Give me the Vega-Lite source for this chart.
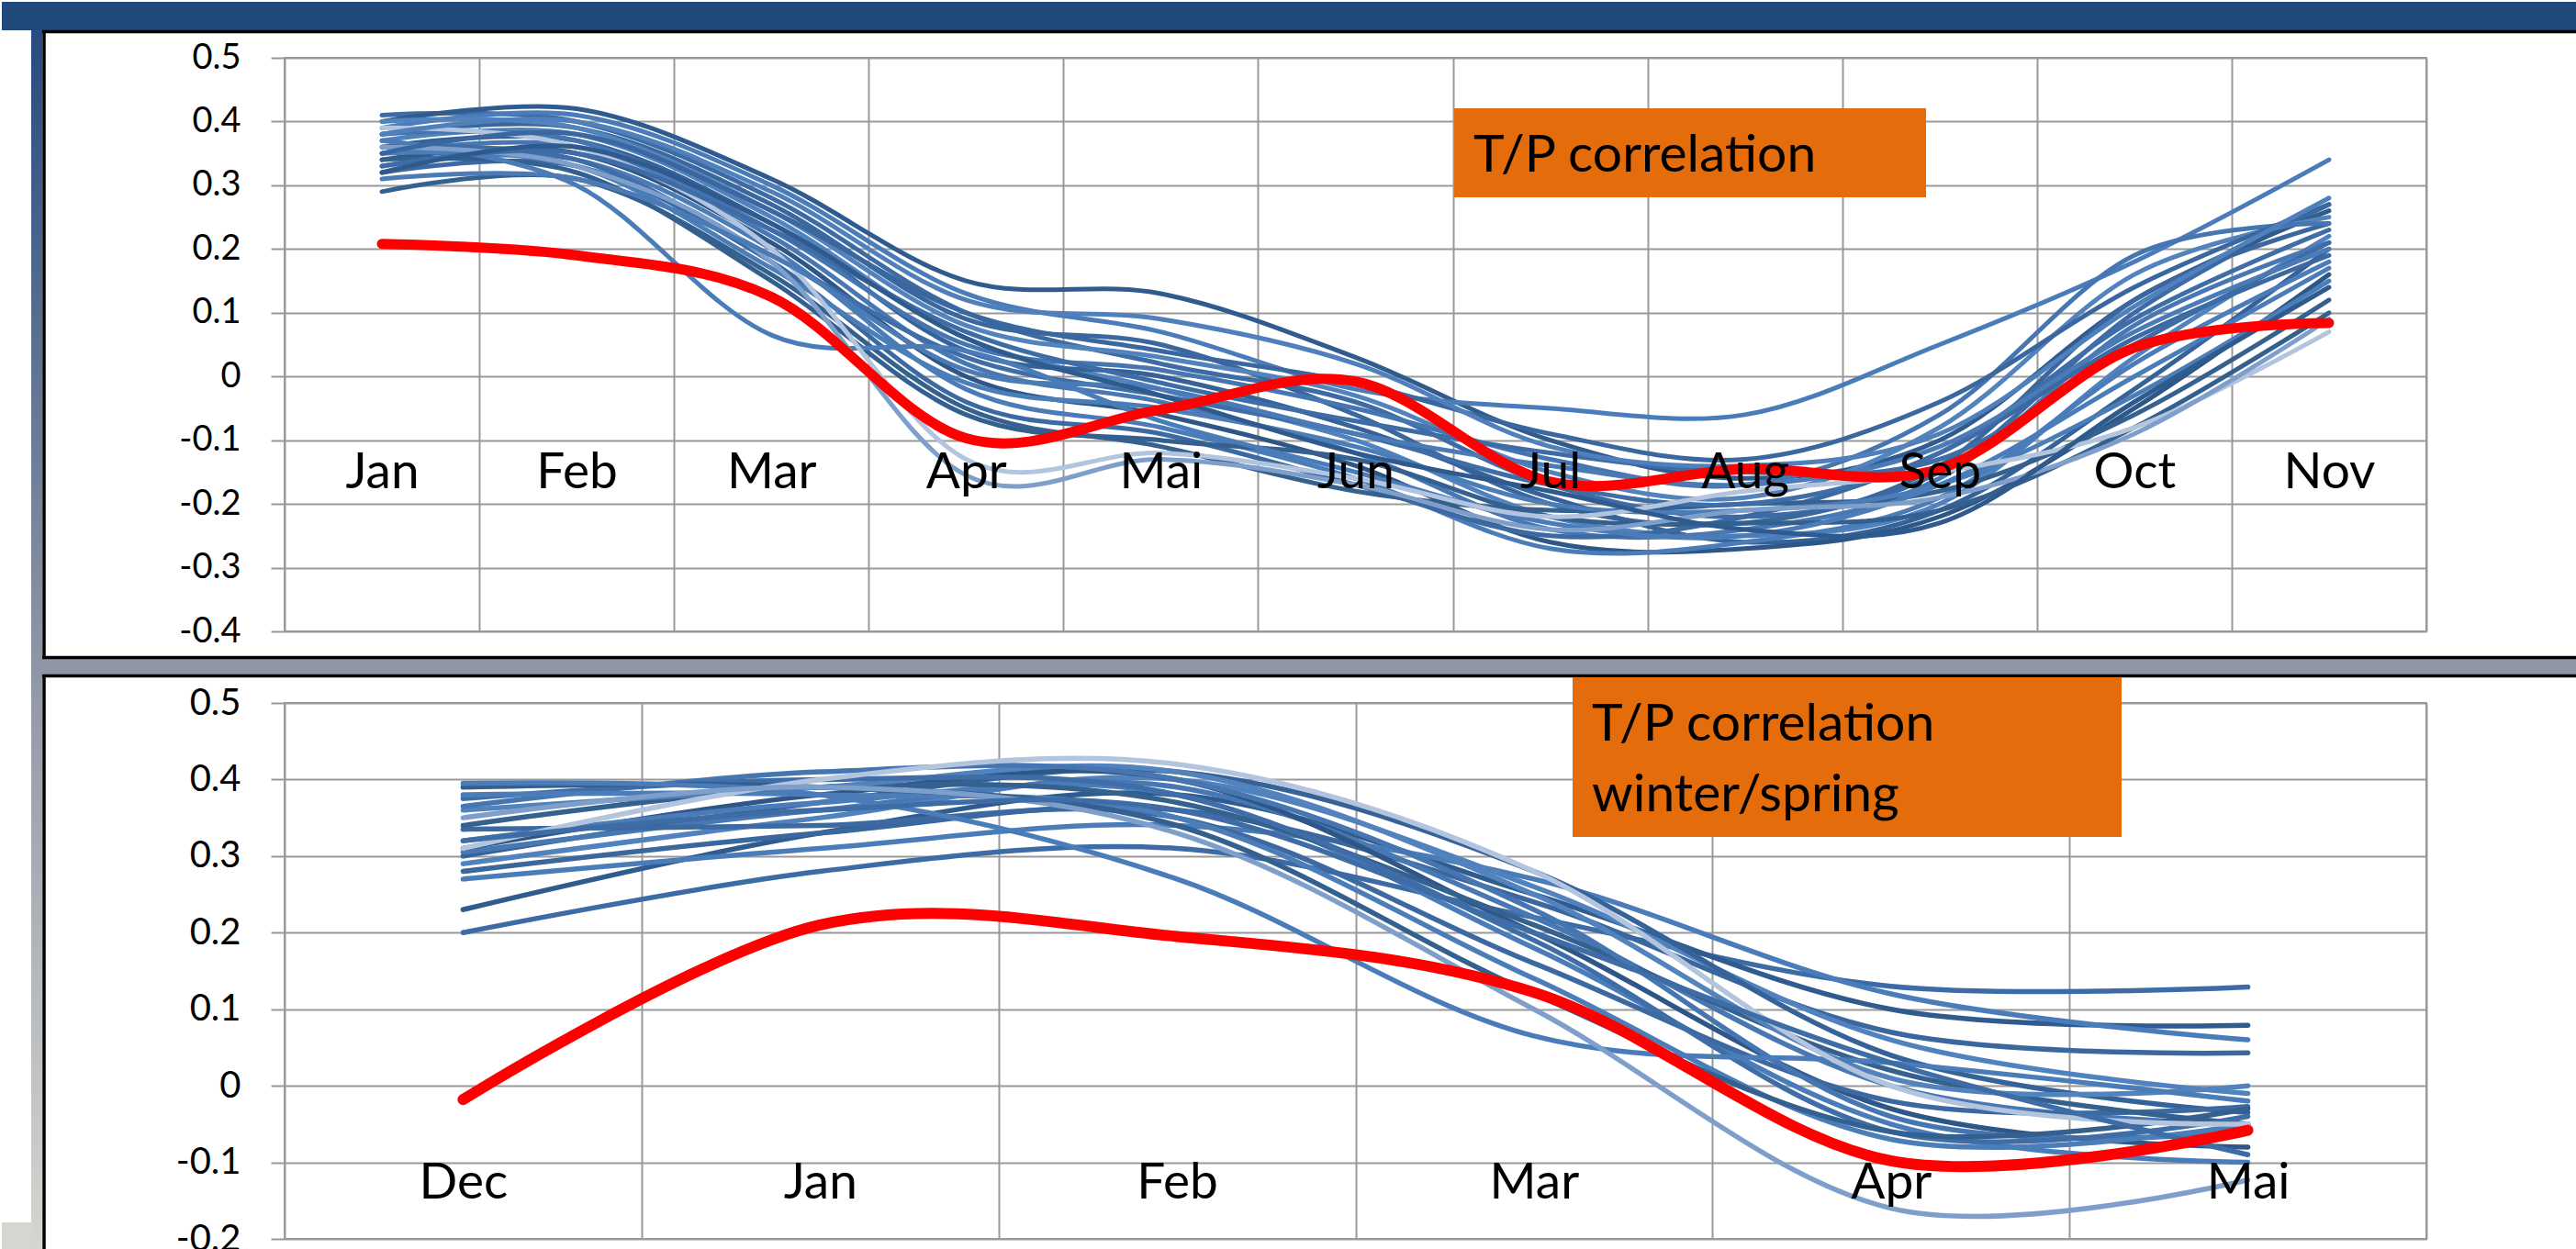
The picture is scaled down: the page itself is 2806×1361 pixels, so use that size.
{
  "$schema": "https://vega.github.io/schema/vega-lite/v6.json",
  "background": "white",
  "padding": 0,
  "bounds": "flush",
  "spacing": 78,
  "config": {
    "view": {"stroke": "#999999", "strokeWidth": 2},
    "font": "Lato"
  },
  "datasets": {
    "top": [
      {"s":"L1","m":0,"v":0.41},{"s":"L1","m":1,"v":0.40},{"s":"L1","m":2,"v":0.28},{"s":"L1","m":3,"v":0.10},{"s":"L1","m":4,"v":0.02},{"s":"L1","m":5,"v":-0.04},{"s":"L1","m":6,"v":-0.17},{"s":"L1","m":7,"v":-0.22},{"s":"L1","m":8,"v":-0.15},{"s":"L1","m":9,"v":0.10},{"s":"L1","m":10,"v":0.27},
      {"s":"L2","m":0,"v":0.40},{"s":"L2","m":1,"v":0.42},{"s":"L2","m":2,"v":0.31},{"s":"L2","m":3,"v":0.15},{"s":"L2","m":4,"v":0.13},{"s":"L2","m":5,"v":0.03},{"s":"L2","m":6,"v":-0.10},{"s":"L2","m":7,"v":-0.16},{"s":"L2","m":8,"v":-0.10},{"s":"L2","m":9,"v":0.12},{"s":"L2","m":10,"v":0.26},
      {"s":"L3","m":0,"v":0.39},{"s":"L3","m":1,"v":0.41},{"s":"L3","m":2,"v":0.30},{"s":"L3","m":3,"v":0.13},{"s":"L3","m":4,"v":0.07},{"s":"L3","m":5,"v":-0.02},{"s":"L3","m":6,"v":-0.05},{"s":"L3","m":7,"v":-0.06},{"s":"L3","m":8,"v":0.05},{"s":"L3","m":9,"v":0.18},{"s":"L3","m":10,"v":0.34},
      {"s":"L4","m":0,"v":0.38},{"s":"L4","m":1,"v":0.39},{"s":"L4","m":2,"v":0.27},{"s":"L4","m":3,"v":0.09},{"s":"L4","m":4,"v":0.05},{"s":"L4","m":5,"v":-0.06},{"s":"L4","m":6,"v":-0.20},{"s":"L4","m":7,"v":-0.23},{"s":"L4","m":8,"v":-0.14},{"s":"L4","m":9,"v":0.12},{"s":"L4","m":10,"v":0.24},
      {"s":"L5","m":0,"v":0.37},{"s":"L5","m":1,"v":0.38},{"s":"L5","m":2,"v":0.25},{"s":"L5","m":3,"v":0.06},{"s":"L5","m":4,"v":-0.02},{"s":"L5","m":5,"v":-0.10},{"s":"L5","m":6,"v":-0.22},{"s":"L5","m":7,"v":-0.25},{"s":"L5","m":8,"v":-0.20},{"s":"L5","m":9,"v":0.03},{"s":"L5","m":10,"v":0.22},
      {"s":"L6","m":0,"v":0.36},{"s":"L6","m":1,"v":0.37},{"s":"L6","m":2,"v":0.24},{"s":"L6","m":3,"v":0.04},{"s":"L6","m":4,"v":0.00},{"s":"L6","m":5,"v":-0.08},{"s":"L6","m":6,"v":-0.19},{"s":"L6","m":7,"v":-0.26},{"s":"L6","m":8,"v":-0.21},{"s":"L6","m":9,"v":-0.02},{"s":"L6","m":10,"v":0.20},
      {"s":"L7","m":0,"v":0.35},{"s":"L7","m":1,"v":0.36},{"s":"L7","m":2,"v":0.22},{"s":"L7","m":3,"v":0.02},{"s":"L7","m":4,"v":-0.04},{"s":"L7","m":5,"v":-0.12},{"s":"L7","m":6,"v":-0.24},{"s":"L7","m":7,"v":-0.24},{"s":"L7","m":8,"v":-0.16},{"s":"L7","m":9,"v":0.08},{"s":"L7","m":10,"v":0.21},
      {"s":"L8","m":0,"v":0.34},{"s":"L8","m":1,"v":0.35},{"s":"L8","m":2,"v":0.21},{"s":"L8","m":3,"v":0.00},{"s":"L8","m":4,"v":-0.06},{"s":"L8","m":5,"v":-0.14},{"s":"L8","m":6,"v":-0.26},{"s":"L8","m":7,"v":-0.27},{"s":"L8","m":8,"v":-0.22},{"s":"L8","m":9,"v":-0.05},{"s":"L8","m":10,"v":0.16},
      {"s":"L9","m":0,"v":0.33},{"s":"L9","m":1,"v":0.34},{"s":"L9","m":2,"v":0.20},{"s":"L9","m":3,"v":-0.02},{"s":"L9","m":4,"v":-0.08},{"s":"L9","m":5,"v":-0.16},{"s":"L9","m":6,"v":-0.27},{"s":"L9","m":7,"v":-0.26},{"s":"L9","m":8,"v":-0.19},{"s":"L9","m":9,"v":0.02},{"s":"L9","m":10,"v":0.18},
      {"s":"L10","m":0,"v":0.32},{"s":"L10","m":1,"v":0.33},{"s":"L10","m":2,"v":0.18},{"s":"L10","m":3,"v":-0.04},{"s":"L10","m":4,"v":-0.09},{"s":"L10","m":5,"v":-0.17},{"s":"L10","m":6,"v":-0.25},{"s":"L10","m":7,"v":-0.22},{"s":"L10","m":8,"v":-0.12},{"s":"L10","m":9,"v":0.06},{"s":"L10","m":10,"v":0.19},
      {"s":"L11","m":0,"v":0.29},{"s":"L11","m":1,"v":0.31},{"s":"L11","m":2,"v":0.16},{"s":"L11","m":3,"v":-0.05},{"s":"L11","m":4,"v":-0.11},{"s":"L11","m":5,"v":-0.18},{"s":"L11","m":6,"v":-0.21},{"s":"L11","m":7,"v":-0.20},{"s":"L11","m":8,"v":-0.18},{"s":"L11","m":9,"v":-0.06},{"s":"L11","m":10,"v":0.12},
      {"s":"L12","m":0,"v":0.40},{"s":"L12","m":1,"v":0.39},{"s":"L12","m":2,"v":0.26},{"s":"L12","m":3,"v":0.08},{"s":"L12","m":4,"v":0.03},{"s":"L12","m":5,"v":-0.03},{"s":"L12","m":6,"v":-0.15},{"s":"L12","m":7,"v":-0.19},{"s":"L12","m":8,"v":-0.08},{"s":"L12","m":9,"v":0.16},{"s":"L12","m":10,"v":0.25},
      {"s":"L13","m":0,"v":0.38},{"s":"L13","m":1,"v":0.37},{"s":"L13","m":2,"v":0.23},{"s":"L13","m":3,"v":0.05},{"s":"L13","m":4,"v":0.01},{"s":"L13","m":5,"v":-0.05},{"s":"L13","m":6,"v":-0.13},{"s":"L13","m":7,"v":-0.17},{"s":"L13","m":8,"v":-0.06},{"s":"L13","m":9,"v":0.19},{"s":"L13","m":10,"v":0.24},
      {"s":"L14","m":0,"v":0.36},{"s":"L14","m":1,"v":0.34},{"s":"L14","m":2,"v":0.19},{"s":"L14","m":3,"v":0.03},{"s":"L14","m":4,"v":-0.03},{"s":"L14","m":5,"v":-0.09},{"s":"L14","m":6,"v":-0.17},{"s":"L14","m":7,"v":-0.20},{"s":"L14","m":8,"v":-0.12},{"s":"L14","m":9,"v":0.09},{"s":"L14","m":10,"v":0.23},
      {"s":"L15","m":0,"v":0.35},{"s":"L15","m":1,"v":0.33},{"s":"L15","m":2,"v":0.17},{"s":"L15","m":3,"v":-0.01},{"s":"L15","m":4,"v":-0.05},{"s":"L15","m":5,"v":-0.11},{"s":"L15","m":6,"v":-0.20},{"s":"L15","m":7,"v":-0.21},{"s":"L15","m":8,"v":-0.17},{"s":"L15","m":9,"v":-0.03},{"s":"L15","m":10,"v":0.15},
      {"s":"L16","m":0,"v":0.34},{"s":"L16","m":1,"v":0.32},{"s":"L16","m":2,"v":0.15},{"s":"L16","m":3,"v":-0.06},{"s":"L16","m":4,"v":-0.10},{"s":"L16","m":5,"v":-0.13},{"s":"L16","m":6,"v":-0.22},{"s":"L16","m":7,"v":-0.23},{"s":"L16","m":8,"v":-0.21},{"s":"L16","m":9,"v":-0.08},{"s":"L16","m":10,"v":0.10},
      {"s":"L17","m":0,"v":0.37},{"s":"L17","m":1,"v":0.30},{"s":"L17","m":2,"v":0.065},{"s":"L17","m":3,"v":0.04},{"s":"L17","m":4,"v":-0.07},{"s":"L17","m":5,"v":-0.15},{"s":"L17","m":6,"v":-0.23},{"s":"L17","m":7,"v":-0.25},{"s":"L17","m":8,"v":-0.17},{"s":"L17","m":9,"v":0.00},{"s":"L17","m":10,"v":0.17},
      {"s":"L18","m":0,"v":0.39},{"s":"L18","m":1,"v":0.36},{"s":"L18","m":2,"v":0.20},{"s":"L18","m":3,"v":-0.13},{"s":"L18","m":4,"v":-0.12},{"s":"L18","m":5,"v":-0.16},{"s":"L18","m":6,"v":-0.22},{"s":"L18","m":7,"v":-0.18},{"s":"L18","m":8,"v":-0.15},{"s":"L18","m":9,"v":-0.08},{"s":"L18","m":10,"v":0.07},
      {"s":"L19","m":0,"v":0.36},{"s":"L19","m":1,"v":0.33},{"s":"L19","m":2,"v":0.18},{"s":"L19","m":3,"v":-0.155},{"s":"L19","m":4,"v":-0.13},{"s":"L19","m":5,"v":-0.17},{"s":"L19","m":6,"v":-0.24},{"s":"L19","m":7,"v":-0.21},{"s":"L19","m":8,"v":-0.19},{"s":"L19","m":9,"v":-0.09},{"s":"L19","m":10,"v":0.09},
      {"s":"L20","m":0,"v":0.33},{"s":"L20","m":1,"v":0.35},{"s":"L20","m":2,"v":0.23},{"s":"L20","m":3,"v":0.07},{"s":"L20","m":4,"v":-0.01},{"s":"L20","m":5,"v":-0.07},{"s":"L20","m":6,"v":-0.12},{"s":"L20","m":7,"v":-0.15},{"s":"L20","m":8,"v":-0.13},{"s":"L20","m":9,"v":0.05},{"s":"L20","m":10,"v":0.21},
      {"s":"L21","m":0,"v":0.31},{"s":"L21","m":1,"v":0.31},{"s":"L21","m":2,"v":0.19},{"s":"L21","m":3,"v":0.01},{"s":"L21","m":4,"v":-0.02},{"s":"L21","m":5,"v":-0.09},{"s":"L21","m":6,"v":-0.14},{"s":"L21","m":7,"v":-0.17},{"s":"L21","m":8,"v":-0.11},{"s":"L21","m":9,"v":0.07},{"s":"L21","m":10,"v":0.20},
      {"s":"L22","m":0,"v":0.35},{"s":"L22","m":1,"v":0.38},{"s":"L22","m":2,"v":0.26},{"s":"L22","m":3,"v":0.10},{"s":"L22","m":4,"v":0.04},{"s":"L22","m":5,"v":-0.01},{"s":"L22","m":6,"v":-0.09},{"s":"L22","m":7,"v":-0.13},{"s":"L22","m":8,"v":-0.04},{"s":"L22","m":9,"v":0.14},{"s":"L22","m":10,"v":0.27},
      {"s":"L23","m":0,"v":0.38},{"s":"L23","m":1,"v":0.40},{"s":"L23","m":2,"v":0.29},{"s":"L23","m":3,"v":0.12},{"s":"L23","m":4,"v":0.09},{"s":"L23","m":5,"v":0.02},{"s":"L23","m":6,"v":-0.11},{"s":"L23","m":7,"v":-0.14},{"s":"L23","m":8,"v":-0.09},{"s":"L23","m":9,"v":0.11},{"s":"L23","m":10,"v":0.28},
      {"s":"L24","m":0,"v":0.32},{"s":"L24","m":1,"v":0.36},{"s":"L24","m":2,"v":0.24},{"s":"L24","m":3,"v":0.06},{"s":"L24","m":4,"v":-0.03},{"s":"L24","m":5,"v":-0.12},{"s":"L24","m":6,"v":-0.18},{"s":"L24","m":7,"v":-0.24},{"s":"L24","m":8,"v":-0.23},{"s":"L24","m":9,"v":-0.04},{"s":"L24","m":10,"v":0.14},
      {"s":"obs","m":0,"v":0.208},{"s":"obs","m":1,"v":0.19},{"s":"obs","m":2,"v":0.125},{"s":"obs","m":3,"v":-0.097},{"s":"obs","m":4,"v":-0.052},{"s":"obs","m":5,"v":-0.008},{"s":"obs","m":6,"v":-0.165},{"s":"obs","m":7,"v":-0.145},{"s":"obs","m":8,"v":-0.145},{"s":"obs","m":9,"v":0.045},{"s":"obs","m":10,"v":0.084}
    ],
    "bottom": [
      {"s":"B1","m":0,"v":0.20},{"s":"B1","m":1,"v":0.28},{"s":"B1","m":2,"v":0.31},{"s":"B1","m":3,"v":0.22},{"s":"B1","m":4,"v":0.13},{"s":"B1","m":5,"v":0.129},
      {"s":"B2","m":0,"v":0.23},{"s":"B2","m":1,"v":0.33},{"s":"B2","m":2,"v":0.38},{"s":"B2","m":3,"v":0.25},{"s":"B2","m":4,"v":0.10},{"s":"B2","m":5,"v":0.079},
      {"s":"B3","m":0,"v":0.27},{"s":"B3","m":1,"v":0.31},{"s":"B3","m":2,"v":0.34},{"s":"B3","m":3,"v":0.27},{"s":"B3","m":4,"v":0.12},{"s":"B3","m":5,"v":0.06},
      {"s":"B4","m":0,"v":0.28},{"s":"B4","m":1,"v":0.33},{"s":"B4","m":2,"v":0.36},{"s":"B4","m":3,"v":0.24},{"s":"B4","m":4,"v":0.07},{"s":"B4","m":5,"v":0.043},
      {"s":"B5","m":0,"v":0.29},{"s":"B5","m":1,"v":0.35},{"s":"B5","m":2,"v":0.40},{"s":"B5","m":3,"v":0.26},{"s":"B5","m":4,"v":0.06},{"s":"B5","m":5,"v":-0.01},
      {"s":"B6","m":0,"v":0.30},{"s":"B6","m":1,"v":0.37},{"s":"B6","m":2,"v":0.41},{"s":"B6","m":3,"v":0.28},{"s":"B6","m":4,"v":0.04},{"s":"B6","m":5,"v":-0.035},
      {"s":"B7","m":0,"v":0.305},{"s":"B7","m":1,"v":0.36},{"s":"B7","m":2,"v":0.39},{"s":"B7","m":3,"v":0.22},{"s":"B7","m":4,"v":0.00},{"s":"B7","m":5,"v":-0.05},
      {"s":"B8","m":0,"v":0.31},{"s":"B8","m":1,"v":0.38},{"s":"B8","m":2,"v":0.40},{"s":"B8","m":3,"v":0.20},{"s":"B8","m":4,"v":-0.03},{"s":"B8","m":5,"v":-0.08},
      {"s":"B9","m":0,"v":0.32},{"s":"B9","m":1,"v":0.37},{"s":"B9","m":2,"v":0.38},{"s":"B9","m":3,"v":0.18},{"s":"B9","m":4,"v":-0.05},{"s":"B9","m":5,"v":-0.10},
      {"s":"B10","m":0,"v":0.335},{"s":"B10","m":1,"v":0.34},{"s":"B10","m":2,"v":0.35},{"s":"B10","m":3,"v":0.16},{"s":"B10","m":4,"v":-0.02},{"s":"B10","m":5,"v":-0.027},
      {"s":"B11","m":0,"v":0.34},{"s":"B11","m":1,"v":0.39},{"s":"B11","m":2,"v":0.37},{"s":"B11","m":3,"v":0.21},{"s":"B11","m":4,"v":0.02},{"s":"B11","m":5,"v":-0.05},
      {"s":"B12","m":0,"v":0.36},{"s":"B12","m":1,"v":0.39},{"s":"B12","m":2,"v":0.41},{"s":"B12","m":3,"v":0.25},{"s":"B12","m":4,"v":0.01},{"s":"B12","m":5,"v":0.0},
      {"s":"B13","m":0,"v":0.365},{"s":"B13","m":1,"v":0.41},{"s":"B13","m":2,"v":0.40},{"s":"B13","m":3,"v":0.23},{"s":"B13","m":4,"v":-0.04},{"s":"B13","m":5,"v":-0.06},
      {"s":"B14","m":0,"v":0.375},{"s":"B14","m":1,"v":0.40},{"s":"B14","m":2,"v":0.38},{"s":"B14","m":3,"v":0.19},{"s":"B14","m":4,"v":-0.06},{"s":"B14","m":5,"v":-0.04},
      {"s":"B15","m":0,"v":0.38},{"s":"B15","m":1,"v":0.38},{"s":"B15","m":2,"v":0.35},{"s":"B15","m":3,"v":0.14},{"s":"B15","m":4,"v":-0.07},{"s":"B15","m":5,"v":-0.05},
      {"s":"B16","m":0,"v":0.39},{"s":"B16","m":1,"v":0.39},{"s":"B16","m":2,"v":0.34},{"s":"B16","m":3,"v":0.12},{"s":"B16","m":4,"v":-0.06},{"s":"B16","m":5,"v":-0.03},
      {"s":"B17","m":0,"v":0.395},{"s":"B17","m":1,"v":0.38},{"s":"B17","m":2,"v":0.27},{"s":"B17","m":3,"v":0.065},{"s":"B17","m":4,"v":0.03},{"s":"B17","m":5,"v":-0.02},
      {"s":"B18","m":0,"v":0.31},{"s":"B18","m":1,"v":0.40},{"s":"B18","m":2,"v":0.42},{"s":"B18","m":3,"v":0.28},{"s":"B18","m":4,"v":0.00},{"s":"B18","m":5,"v":-0.05},
      {"s":"B19","m":0,"v":0.35},{"s":"B19","m":1,"v":0.39},{"s":"B19","m":2,"v":0.33},{"s":"B19","m":3,"v":0.10},{"s":"B19","m":4,"v":-0.16},{"s":"B19","m":5,"v":-0.123},
      {"s":"B20","m":0,"v":0.32},{"s":"B20","m":1,"v":0.36},{"s":"B20","m":2,"v":0.36},{"s":"B20","m":3,"v":0.20},{"s":"B20","m":4,"v":0.03},{"s":"B20","m":5,"v":-0.09},
      {"s":"obs","m":0,"v":-0.018},{"s":"obs","m":1,"v":0.21},{"s":"obs","m":2,"v":0.195},{"s":"obs","m":3,"v":0.122},{"s":"obs","m":4,"v":-0.098},{"s":"obs","m":5,"v":-0.058}
    ]
  },
  "vconcat": [
    {
      "width": 2333,
      "height": 625,
      "resolve": {"axis": {"x": "independent"}},
      "layer": [
        {
          "data": {"values": [{}]},
          "mark": {"type": "rect", "fill": "#214a7c"},
          "encoding": {
            "x": {"datum": -1.95222, "type": "quantitative", "scale": {"domain": [-0.5, 10.5], "nice": false, "zero": false}, "axis": null},
            "x2": {"datum": 11.278},
            "y": {"datum": 0.58784, "type": "quantitative", "scale": {"domain": [-0.4, 0.5], "nice": false, "zero": false}},
            "y2": {"datum": 0.5432}
          }
        },
        {
          "data": {"values": [{}]},
          "mark": {"type": "rect", "fill": {"gradient": "linear", "x1": 0, "y1": 0, "x2": 0, "y2": 1, "stops": [{"offset": 0, "color": "#264b7e"}, {"offset": 0.5, "color": "#8c93a4"}, {"offset": 1, "color": "#d6d6d0"}]}},
          "encoding": {
            "x": {"datum": -1.80133, "type": "quantitative", "axis": null},
            "x2": {"datum": -1.74476},
            "y": {"datum": 0.5432, "type": "quantitative"},
            "y2": {"datum": -1.372}
          }
        },
        {
          "data": {"values": [{}]},
          "mark": {"type": "rect", "fill": "#d6d6d0"},
          "encoding": {
            "x": {"datum": -1.95222, "type": "quantitative", "axis": null},
            "x2": {"datum": -1.80133},
            "y": {"datum": -1.32736, "type": "quantitative"},
            "y2": {"datum": -1.372}
          }
        },
        {
          "data": {"values": [{}]},
          "mark": {"type": "rect", "fill": "#8e95a5"},
          "encoding": {
            "x": {"datum": -1.80133, "type": "quantitative", "axis": null},
            "x2": {"datum": 11.278},
            "y": {"datum": -0.43888, "type": "quantitative"},
            "y2": {"datum": -0.472}
          }
        },
        {
          "data": {"values": [{"p": 0.54104}, {"p": -0.44104}, {"p": -0.46984}]},
          "mark": {"type": "rule", "color": "black", "strokeWidth": 3.5},
          "encoding": {
            "x": {"datum": -1.74476, "type": "quantitative", "axis": null},
            "x2": {"datum": 11.278},
            "y": {"field": "p", "type": "quantitative"}
          }
        },
        {
          "data": {"values": [{"a": 0.5432, "b": -0.44176}, {"a": -0.46912, "b": -1.372}]},
          "mark": {"type": "rule", "color": "black", "strokeWidth": 3.5},
          "encoding": {
            "x": {"datum": -1.73533, "type": "quantitative", "axis": null},
            "y": {"field": "a", "type": "quantitative"},
            "y2": {"field": "b"}
          }
        },
        {
          "data": {"name": "top"},
          "transform": [{"filter": "datum.s !== 'obs'"}],
          "mark": {"type": "line", "interpolate": "cardinal", "strokeWidth": 5, "strokeCap": "round", "strokeJoin": "round"},
          "encoding": {
            "x": {
              "field": "m", "type": "quantitative",
              "scale": {"domain": [-0.5, 10.5], "nice": false, "zero": false},
              "axis": {
                "orient": "bottom", "zindex": 0,
                "values": [-0.5, 0.5, 1.5, 2.5, 3.5, 4.5, 5.5, 6.5, 7.5, 8.5, 9.5, 10.5],
                "grid": true, "gridColor": "#999999", "gridWidth": 2,
                "ticks": false, "domain": false, "labels": false, "title": null
              }
            },
            "y": {
              "field": "v", "type": "quantitative",
              "scale": {"domain": [-0.4, 0.5], "nice": false, "zero": false},
              "axis": {
                "values": [-0.4, -0.3, -0.2, -0.1, 0, 0.1, 0.2, 0.3, 0.4, 0.5],
                "grid": true, "gridColor": "#999999", "gridWidth": 2,
                "ticks": true, "tickSize": 15, "tickColor": "#999999", "tickWidth": 2,
                "domain": false,
                "labelExpr": "'' + datum.value",
                "labelFont": "Lato", "labelFontSize": 38, "labelColor": "black", "labelPadding": 33,
                "labelOverlap": false, "labelFlush": false, "title": null
              }
            },
            "color": {
              "field": "s", "type": "nominal", "legend": null,
              "scale": {
                "domain": ["L1","L2","L3","L4","L5","L6","L7","L8","L9","L10","L11","L12","L13","L14","L15","L16","L17","L18","L19","L20","L21","L22","L23","L24"],
                "range": ["#3d6ba5","#2f5b8f","#4a7cb9","#3a679e","#4f82bf","#36629a","#4878b4","#2e5788","#4a7cb9","#3c69a2","#35618f","#5383bd","#4676b1","#3f6da7","#4b7db8","#34608f","#4a7cb9","#b3c4de","#7f9fcb","#3e6ca6","#4a7bb6","#3a679f","#4f80bb","#2f5a8d"]
              }
            }
          }
        },
        {
          "data": {"name": "top"},
          "transform": [{"filter": "datum.s === 'obs'"}],
          "mark": {"type": "line", "interpolate": "cardinal", "strokeWidth": 11, "strokeCap": "round", "color": "#ff0000"},
          "encoding": {
            "x": {
              "field": "m", "type": "quantitative",
              "axis": {
                "orient": "top", "zindex": 2,
                "values": [0, 1, 2, 3, 4, 5, 6, 7, 8, 9, 10],
                "grid": false, "ticks": false, "domain": false,
                "labelExpr": "['Jan','Feb','Mar','Apr','Mai','Jun','Jul','Aug','Sep','Oct','Nov'][datum.value]",
                "labelFont": "Lato", "labelFontSize": 55, "labelColor": "black",
                "labelBaseline": "alphabetic", "labelPadding": -51, "offset": -417,
                "labelFlush": false, "labelOverlap": false, "labelBound": false, "title": null
              }
            },
            "y": {"field": "v", "type": "quantitative"}
          }
        },
        {
          "data": {"values": [{}]},
          "mark": {"type": "rect", "fill": "#e46c0a"},
          "encoding": {
            "x": {"datum": 5.50686, "type": "quantitative", "axis": null},
            "x2": {"datum": 7.93043},
            "y": {"datum": 0.4208, "type": "quantitative"},
            "y2": {"datum": 0.28112}
          }
        },
        {
          "data": {"values": [{"label": "T/P correlation"}]},
          "mark": {"type": "text", "align": "left", "baseline": "alphabetic", "font": "Lato", "fontSize": 57, "color": "black"},
          "encoding": {
            "x": {"datum": 5.60587, "type": "quantitative", "axis": null},
            "y": {"datum": 0.32216, "type": "quantitative"},
            "text": {"field": "label"}
          }
        }
      ]
    },
    {
      "width": 2333,
      "height": 584,
      "resolve": {"axis": {"x": "independent"}},
      "layer": [
        {
          "data": {"name": "bottom"},
          "transform": [{"filter": "datum.s !== 'obs'"}],
          "mark": {"type": "line", "interpolate": "cardinal", "strokeWidth": 5.5, "strokeCap": "round", "strokeJoin": "round"},
          "encoding": {
            "x": {
              "field": "m", "type": "quantitative",
              "scale": {"domain": [-0.5, 5.5], "nice": false, "zero": false},
              "axis": {
                "orient": "bottom", "zindex": 0,
                "values": [-0.5, 0.5, 1.5, 2.5, 3.5, 4.5, 5.5],
                "grid": true, "gridColor": "#999999", "gridWidth": 2,
                "ticks": false, "domain": false, "labels": false, "title": null
              }
            },
            "y": {
              "field": "v", "type": "quantitative",
              "scale": {"domain": [-0.2, 0.5], "nice": false, "zero": false},
              "axis": {
                "values": [-0.2, -0.1, 0, 0.1, 0.2, 0.3, 0.4, 0.5],
                "grid": true, "gridColor": "#999999", "gridWidth": 2,
                "ticks": true, "tickSize": 15, "tickColor": "#999999", "tickWidth": 2,
                "domain": false,
                "labelExpr": "'' + datum.value",
                "labelFont": "Lato", "labelFontSize": 40, "labelColor": "black", "labelPadding": 33,
                "labelOverlap": false, "labelFlush": false, "title": null
              }
            },
            "color": {
              "field": "s", "type": "nominal", "legend": null,
              "scale": {
                "domain": ["B1","B2","B3","B4","B5","B6","B7","B8","B9","B10","B11","B12","B13","B14","B15","B16","B17","B18","B19","B20"],
                "range": ["#35618f","#3d6aa2","#4272ad","#4676b2","#3a6699","#2f5a8b","#4677b3","#355f90","#3f6ca4","#6e93c6","#5a85bf","#7b9bcb","#88a5d0","#a5bbdb","#b8c8e2","#c9d5e8","#c5d1e6","#9db4d8","#8aa6d0","#4f7fbb"]
              }
            }
          }
        },
        {
          "data": {"name": "bottom"},
          "transform": [{"filter": "datum.s === 'obs'"}],
          "mark": {"type": "line", "interpolate": "cardinal", "strokeWidth": 12, "strokeCap": "round", "color": "#ff0000"},
          "encoding": {
            "x": {
              "field": "m", "type": "quantitative",
              "axis": {
                "orient": "top", "zindex": 2,
                "values": [0, 1, 2, 3, 4, 5],
                "grid": false, "ticks": false, "domain": false,
                "labelExpr": "['Dec','Jan','Feb','Mar','Apr','Mai'][datum.value]",
                "labelFont": "Lato", "labelFontSize": 55, "labelColor": "black",
                "labelBaseline": "alphabetic", "labelPadding": -38, "offset": -501,
                "labelFlush": false, "labelOverlap": false, "labelBound": false, "title": null
              }
            },
            "y": {"field": "v", "type": "quantitative"}
          }
        },
        {
          "data": {"values": [{}]},
          "mark": {"type": "rect", "fill": "#e46c0a"},
          "encoding": {
            "x": {"datum": 3.10823, "type": "quantitative", "axis": null},
            "x2": {"datum": 4.64619},
            "y": {"datum": 0.53356, "type": "quantitative"},
            "y2": {"datum": 0.325}
          }
        },
        {
          "data": {"values": [{"label": "T/P correlation\nwinter/spring"}]},
          "mark": {"type": "text", "align": "left", "baseline": "alphabetic", "font": "Lato", "fontSize": 57, "color": "black", "lineBreak": "\n", "lineHeight": 77},
          "encoding": {
            "x": {"datum": 3.16224, "type": "quantitative", "axis": null},
            "y": {"datum": 0.45086, "type": "quantitative"},
            "text": {"field": "label"}
          }
        }
      ]
    }
  ]
}
